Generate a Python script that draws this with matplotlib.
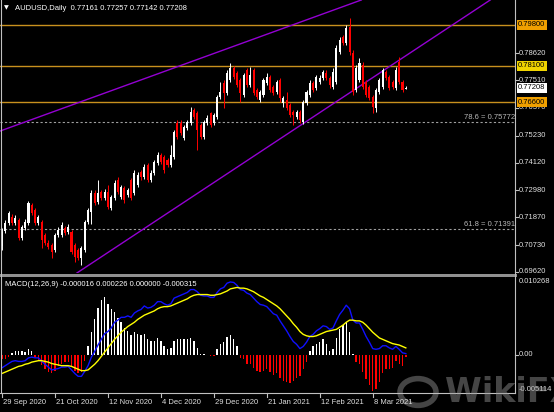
import matplotlib
matplotlib.use("Agg")
import matplotlib.pyplot as plt
import numpy as np
from matplotlib.transforms import blended_transform_factory
from matplotlib.patches import Rectangle, Circle
from matplotlib.lines import Line2D

W, H = 554, 412
FONT = "Liberation Sans"

# Daily AUDUSD candles, 29 Sep 2020 .. 22 Mar 2021
opens = [0.7069, 0.7131, 0.7164, 0.7188, 0.7164, 0.7176, 0.7102, 0.7143, 0.7164, 0.7238,
         0.7217, 0.7164, 0.7168, 0.7114, 0.7081, 0.7073, 0.7053, 0.7114, 0.7114, 0.7143,
         0.7127, 0.7127, 0.7073, 0.7053, 0.7020, 0.7053, 0.7168, 0.7209, 0.7287, 0.7250,
         0.7291, 0.7266, 0.7291, 0.7225, 0.7266, 0.7341, 0.7271, 0.7308, 0.7279, 0.7341,
         0.7287, 0.7320, 0.7373, 0.7353, 0.7402, 0.7341, 0.7369, 0.7410, 0.7443, 0.7435,
         0.7423, 0.7402, 0.7435, 0.7575, 0.7575, 0.7513, 0.7554, 0.7575, 0.7628, 0.7616,
         0.7567, 0.7517, 0.7575, 0.7616, 0.7575, 0.7600, 0.7682, 0.7740, 0.7698, 0.7752,
         0.7801, 0.7781, 0.7752, 0.7690, 0.7793, 0.7731, 0.7793, 0.7711, 0.7670, 0.7690,
         0.7740, 0.7764, 0.7723, 0.7703, 0.7752, 0.7657, 0.7670, 0.7649, 0.7620, 0.7600,
         0.7620, 0.7579, 0.7657, 0.7690, 0.7740, 0.7719, 0.7744, 0.7760, 0.7781, 0.7760,
         0.7723, 0.7744, 0.7867, 0.7929, 0.7904, 0.7970, 0.7863, 0.7711, 0.7752, 0.7814,
         0.7744, 0.7723, 0.7682, 0.7637, 0.7703, 0.7723, 0.7785, 0.7764, 0.7744, 0.7719,
         0.7826, 0.7744, 0.77161]
highs = [0.7143, 0.7176, 0.7213, 0.7201, 0.7197, 0.7184, 0.7155, 0.7180, 0.7254, 0.7246,
         0.7225, 0.7197, 0.7176, 0.7122, 0.7094, 0.7081, 0.7122, 0.7147, 0.7168, 0.7151,
         0.7160, 0.7135, 0.7081, 0.7061, 0.7069, 0.7176, 0.7225, 0.7299, 0.7299, 0.7341,
         0.7299, 0.7303, 0.7320, 0.7279, 0.7341, 0.7353, 0.7320, 0.7316, 0.7308, 0.7349,
         0.7382, 0.7373, 0.7382, 0.7406, 0.7410, 0.7382, 0.7423, 0.7456, 0.7452, 0.7443,
         0.7431, 0.7484, 0.7546, 0.7587, 0.7587, 0.7567, 0.7587, 0.7641, 0.7637, 0.7624,
         0.7575, 0.7587, 0.7608, 0.7620, 0.7616, 0.7690, 0.7744, 0.7752, 0.7793, 0.7822,
         0.7810, 0.7789, 0.7760, 0.7781, 0.7801, 0.7805, 0.7801, 0.7719, 0.7711, 0.7760,
         0.7781, 0.7772, 0.7731, 0.7752, 0.7760, 0.7686, 0.7703, 0.7657, 0.7628, 0.7628,
         0.7628, 0.7670, 0.7711, 0.7752, 0.7748, 0.7772, 0.7772, 0.7793, 0.7793, 0.7768,
         0.7801, 0.7896, 0.7929, 0.7937, 0.7978, 0.8007, 0.7875, 0.7814, 0.7842, 0.7826,
         0.7752, 0.7731, 0.7690, 0.7719, 0.7760, 0.7801, 0.7793, 0.7772, 0.7752, 0.7805,
         0.7847, 0.7752, 0.77257]
lows = [0.7053, 0.7122, 0.7155, 0.7155, 0.7155, 0.7094, 0.7094, 0.7135, 0.7155, 0.7197,
        0.7155, 0.7155, 0.7061, 0.7073, 0.7057, 0.7020, 0.7044, 0.7106, 0.7106, 0.7114,
        0.7118, 0.7036, 0.7003, 0.7011, 0.6991, 0.7044, 0.7160, 0.7160, 0.7238, 0.7242,
        0.7258, 0.7258, 0.7221, 0.7217, 0.7258, 0.7283, 0.7262, 0.7246, 0.7271, 0.7258,
        0.7279, 0.7312, 0.7341, 0.7345, 0.7332, 0.7332, 0.7361, 0.7402, 0.7406, 0.7369,
        0.7394, 0.7394, 0.7427, 0.7509, 0.7526, 0.7505, 0.7546, 0.7567, 0.7591, 0.7464,
        0.7509, 0.7509, 0.7567, 0.7559, 0.7567, 0.7591, 0.7674, 0.7637, 0.7690, 0.7744,
        0.7756, 0.7723, 0.7661, 0.7682, 0.7723, 0.7723, 0.7690, 0.7674, 0.7661, 0.7682,
        0.7731, 0.7703, 0.7690, 0.7694, 0.7661, 0.7641, 0.7628, 0.7600, 0.7567, 0.7591,
        0.7575, 0.7571, 0.7649, 0.7682, 0.7703, 0.7711, 0.7735, 0.7752, 0.7752, 0.7719,
        0.7715, 0.7735, 0.7859, 0.7896, 0.7896, 0.7855, 0.7690, 0.7703, 0.7744, 0.7715,
        0.7682, 0.7670, 0.7616, 0.7620, 0.7694, 0.7715, 0.7752, 0.7711, 0.7715, 0.7711,
        0.7735, 0.7703, 0.77142]
closes = [0.7127, 0.7164, 0.7205, 0.7164, 0.7184, 0.7102, 0.7147, 0.7168, 0.7246, 0.7205,
          0.7164, 0.7188, 0.7094, 0.7081, 0.7065, 0.7044, 0.7114, 0.7135, 0.7155, 0.7122,
          0.7147, 0.7044, 0.7024, 0.7020, 0.7061, 0.7168, 0.7217, 0.7287, 0.7246, 0.7287,
          0.7266, 0.7291, 0.7229, 0.7271, 0.7328, 0.7291, 0.7312, 0.7258, 0.7299, 0.7266,
          0.7369, 0.7361, 0.7353, 0.7394, 0.7341, 0.7369, 0.7415, 0.7443, 0.7415, 0.7382,
          0.7402, 0.7443, 0.7538, 0.7517, 0.7534, 0.7559, 0.7579, 0.7620, 0.7600, 0.7546,
          0.7517, 0.7579, 0.7596, 0.7567, 0.7608, 0.7682, 0.7703, 0.7698, 0.7781, 0.7801,
          0.7764, 0.7731, 0.7698, 0.7772, 0.7731, 0.7772, 0.7698, 0.7682, 0.7703, 0.7752,
          0.7764, 0.7711, 0.7698, 0.7744, 0.7678, 0.7678, 0.7637, 0.7608, 0.7608, 0.7620,
          0.7587, 0.7661, 0.7703, 0.7740, 0.7711, 0.7764, 0.7760, 0.7785, 0.7760, 0.7731,
          0.7785, 0.7884, 0.7916, 0.7904, 0.7966, 0.7867, 0.7703, 0.7801, 0.7822, 0.7723,
          0.7690, 0.7678, 0.7641, 0.7711, 0.7752, 0.7793, 0.7760, 0.7719, 0.7723, 0.7793,
          0.7744, 0.7711, 0.77208]

# MACD(12,26,9) panel, values in units of 0.001
macd_blue = [-1.8, -1.5, -1.2, -0.9, -0.8, -0.9, -0.9, -0.8, -0.4, -0.3,
             -0.4, -0.4, -0.9, -1.3, -1.7, -2.1, -2.0, -1.9, -1.7, -1.7,
             -1.6, -2.1, -2.6, -3.0, -3.0, -2.3, -1.5, -0.3, 0.5, 1.4,
             2.2, 3.0, 3.3, 3.8, 4.6, 4.9, 5.3, 5.3, 5.5, 5.3,
             5.9, 6.2, 6.4, 6.9, 6.6, 6.7, 7.0, 7.5, 7.5, 7.2,
             7.0, 7.2, 8.0, 8.2, 8.4, 8.6, 8.8, 9.2, 9.2, 8.9,
             8.4, 8.3, 8.3, 8.1, 8.1, 8.8, 9.3, 9.5, 10.1, 10.27,
             10.2, 9.8, 9.2, 9.1, 8.7, 8.5, 8.0, 7.5, 7.1, 7.0,
             6.8, 6.3, 5.8, 5.6, 4.8, 4.1, 3.4, 2.6, 1.9, 1.5,
             0.9, 1.2, 1.8, 2.6, 2.9, 3.4, 3.7, 4.1, 4.0, 3.6,
             3.8, 4.8, 5.7, 6.3, 7.0, 6.5, 4.9, 4.5, 4.5, 3.6,
             2.6, 1.8, 0.9, 0.8, 0.9, 1.3, 1.3, 1.0, 0.8, 1.2,
             0.8, 0.3, 0.2]
macd_yellow = [-2.6, -2.4, -2.2, -2.0, -1.8, -1.6, -1.5, -1.3, -1.2, -1.0,
               -0.9, -0.8, -0.8, -0.9, -1.0, -1.2, -1.3, -1.4, -1.5, -1.5,
               -1.5, -1.6, -1.8, -2.0, -2.2, -2.2, -2.1, -1.7, -1.3, -0.8,
               -0.2, 0.4, 1.0, 1.6, 2.2, 2.7, 3.2, 3.6, 4.0, 4.3,
               4.6, 5.0, 5.3, 5.6, 5.8, 6.0, 6.2, 6.5, 6.7, 6.8,
               6.8, 6.9, 7.1, 7.3, 7.5, 7.7, 7.9, 8.2, 8.4, 8.5,
               8.5, 8.5, 8.5, 8.4, 8.4, 8.5, 8.6, 8.8, 9.0, 9.3,
               9.4, 9.5, 9.4, 9.4, 9.3, 9.1, 8.9, 8.6, 8.3, 8.1,
               7.8, 7.5, 7.2, 6.9, 6.5, 6.0, 5.5, 5.0, 4.4, 3.9,
               3.3, 2.9, 2.7, 2.6, 2.6, 2.7, 2.9, 3.1, 3.3, 3.4,
               3.5, 3.6, 3.9, 4.2, 4.6, 4.9, 4.9, 4.8, 4.8, 4.6,
               4.2, 3.7, 3.2, 2.8, 2.4, 2.2, 2.0, 1.8, 1.6, 1.5,
               1.4, 1.2, 1.0]
macd_hist = [-0.6, -0.5, -0.3, 0.3, 0.5, 0.6, 0.5, 0.4, 0.8, 0.6,
             -0.4, -0.8, -1.4, -2.0, -2.4, -2.6, -2.2, -1.6, -1.2, -1.0,
             -1.0, -1.6, -2.2, -2.6, -2.4, -0.8, 1.2, 3.2, 5.0, 6.6,
             7.8, 8.2, 7.2, 6.4, 6.0, 5.2, 4.6, 3.8, 3.4, 2.8,
             3.2, 3.0, 2.8, 3.0, 2.2, 2.0, 2.0, 2.4, 2.0, 1.2,
             0.8, 1.0, 2.0, 2.2, 2.2, 2.2, 2.2, 2.4, 2.0, 1.0,
             0.2, 0.1, 0.0, -0.2, -0.2, 0.8, 1.6, 1.8, 2.6, 2.8,
             2.2, 1.2, -0.4, -0.6, -1.2, -1.2, -1.8, -2.2, -2.4, -2.2,
             -2.0, -2.4, -2.8, -2.6, -3.2, -3.6, -3.8, -4.0, -3.6, -3.2,
             -3.0, -2.0, -1.0, 0.6, 1.2, 1.6, 1.8, 2.2, 1.6, 0.6,
             0.8, 2.4, 3.6, 4.2, 4.6, 3.2, 0.2, -1.0, -1.2, -2.4,
             -3.4, -4.2, -5.1, -4.8, -3.8, -2.6, -2.0, -2.0, -1.8, -0.8,
             -1.2, -1.6, -0.3]

date_labels = ["29 Sep 2020", "21 Oct 2020", "12 Nov 2020", "4 Dec 2020",
               "29 Dec 2020", "21 Jan 2021", "12 Feb 2021", "8 Mar 2021"]
price_ticks = [0.78620, 0.77510, 0.76370, 0.75230, 0.74120, 0.72980, 0.71870, 0.70730, 0.69620]
levels = [0.79800, 0.78100, 0.76600]
level_box = ["#f0a000", "#f0d400", "#f0a000"]
fib_pct = ["78.6", "61.8"]
fib_price = [0.75772, 0.71391]


def fx(x):
    return x / W


def fy(y):
    return 1 - y / H


BAR = 3.31   # px per bar
X0 = 2       # px of first bar
RIGHT = 515  # px of price scale

fig = plt.figure(figsize=(W / 100, H / 100), dpi=100, facecolor="black")

ax = fig.add_axes([0, fy(273), fx(RIGHT), 273 / H], facecolor="black")
ax2 = fig.add_axes([0, fy(392), fx(RIGHT), (392 - 277) / H], facecolor="black")
for a in (ax, ax2):
    a.set_xlim((0 - X0) / BAR, (RIGHT - X0) / BAR)
    a.set_xticks([])
    a.set_yticks([])
    for s in a.spines.values():
        s.set_visible(False)

ax.set_ylim(0.80810 - 0.0004114 * 273, 0.80810)
ax2.set_ylim(-37 * 1.406e-4, 78 * 1.406e-4)

# candles
o = np.array(opens)
c = np.array(closes)
hi = np.array(highs)
lo = np.array(lows)
x = np.arange(len(o))
cols = np.where(c >= o, "#ffffff", "#ff0000")
ax.vlines(x, lo, hi, colors=cols, lw=0.7, zorder=3)
body = np.maximum(np.abs(c - o), 0.00005)
ax.bar(x, body, bottom=np.minimum(o, c), width=0.62, color=cols, linewidth=0, zorder=4)

# support / resistance levels
for lv in levels:
    ax.axhline(lv, color="#c8901e", lw=1.0, zorder=2)

ty = blended_transform_factory(ax.transAxes, ax.transData)

# fibonacci levels
for pct, fp in zip(fib_pct, fib_price):
    ax.axhline(fp, color="#a0a0a0", lw=0.8, ls=(0, (2, 2)), zorder=2)
    ax.text(1.0, fp + 0.0004, f"{pct} = {fp:.5f}", transform=ty,
            ha="right", va="bottom", color="#b8b8b8", fontsize=5.5, family=FONT)

# channel lines
ax.axline((37.76, 0.7094), (123.26, 0.7863), color="#9400d3", lw=1.0, zorder=2)
ax.axline((29.6, 0.7691), (54.7, 0.7815), color="#9400d3", lw=1.0, zorder=2)

# MACD panel
hb = np.array(macd_hist) * 1e-3
hcols = np.where(hb >= 0, "#ffffff", "#ff0000")
ax2.bar(x, hb, width=0.42, color=hcols, linewidth=0, zorder=2)
ax2.plot(x, np.array(macd_blue) * 1e-3, color="#1010ff", lw=1.0, zorder=3)
ax2.plot(x, np.array(macd_yellow) * 1e-3, color="#ffff00", lw=1.0, zorder=3)

# frame lines
fig.add_artist(Line2D([fx(RIGHT), fx(RIGHT)], [fy(0), fy(393)], color="#c0c0c0", lw=0.8))
fig.add_artist(Line2D([fx(1), fx(1)], [fy(0), fy(393)], color="#c0c0c0", lw=0.8))
fig.add_artist(Line2D([0, fx(RIGHT)], [fy(393), fy(393)], color="#c0c0c0", lw=0.8))
fig.add_artist(Rectangle((0, fy(276.5)), fx(RIGHT + 2), 3 / H, color="#909090", lw=0))

# right price scale
for p in price_ticks:
    ax.plot([1.0, 1.006], [p, p], color="#c0c0c0", lw=0.8, transform=ty, clip_on=False)
    ax.text(1.008, p, f"{p:.5f}", transform=ty,
            ha="left", va="center", color="#e0e0e0", fontsize=5.5, family=FONT, clip_on=False)
for lv, bc in zip(levels, level_box):
    ax.text(1.006, lv, f"{lv:.5f}", transform=ty,
            ha="left", va="center", color="black", fontsize=5.5, family=FONT, clip_on=False, zorder=10,
            bbox=dict(boxstyle="square,pad=0.2", fc=bc, ec="none"))
ax.text(1.006, closes[-1], f"{closes[-1]:.5f}", transform=ty,
        ha="left", va="center", color="black", fontsize=5.5, family=FONT, clip_on=False, zorder=10,
        bbox=dict(boxstyle="square,pad=0.2", fc="white", ec="none"))

# MACD scale
t2 = blended_transform_factory(ax2.transAxes, ax2.transData)
ax2.text(1.008, 0.010268, "0.010268", transform=t2, ha="left", va="center", color="#e0e0e0",
         fontsize=5.5, family=FONT, clip_on=False)
ax2.plot([1.0, 1.006], [0, 0], color="#c0c0c0", lw=0.8, transform=t2, clip_on=False)
ax2.text(1.008, 0, "0.00", transform=t2, ha="left", va="center", color="#e0e0e0",
         fontsize=5.5, family=FONT, clip_on=False)
ax2.text(1.008, -0.00480, "-0.005114", transform=t2, ha="left", va="center", color="#e0e0e0",
         fontsize=5.5, family=FONT, clip_on=False)

# titles
fig.text(fx(4), fy(8), "\u25bc", color="white", fontsize=4.5, va="center", ha="left", family="DejaVu Sans")
fig.text(fx(15), fy(8), "AUDUSD,Daily  0.77161 0.77257 0.77142 0.77208", color="white",
         fontsize=5.5, va="center", ha="left", family=FONT)
fig.text(fx(5), fy(284), "MACD(12,26,9) -0.000016 0.000226 0.000000 -0.000315", color="white",
         fontsize=5.5, va="center", ha="left", family=FONT)

# date axis
for k, lab in enumerate(date_labels):
    xp = X0 + 16 * k * BAR
    fig.add_artist(Line2D([fx(xp), fx(xp)], [fy(393), fy(397)], color="#c0c0c0", lw=0.8))
    fig.text(fx(xp + 1), fy(402), lab, color="#e0e0e0", fontsize=5.5, va="center", ha="left", family=FONT)

# watermark
fig.add_artist(Circle((fx(418), fy(392)), 18 / W, transform=fig.transFigure, fill=False,
                      ec="#9a9a9a", lw=4, alpha=0.45))
fig.text(fx(445), fy(392), "WikiFX", color="#9a9a9a", alpha=0.45, fontsize=24, fontweight="bold",
         va="center", ha="left", family="DejaVu Sans")

fig.savefig("out.png", dpi=100, facecolor="black")
